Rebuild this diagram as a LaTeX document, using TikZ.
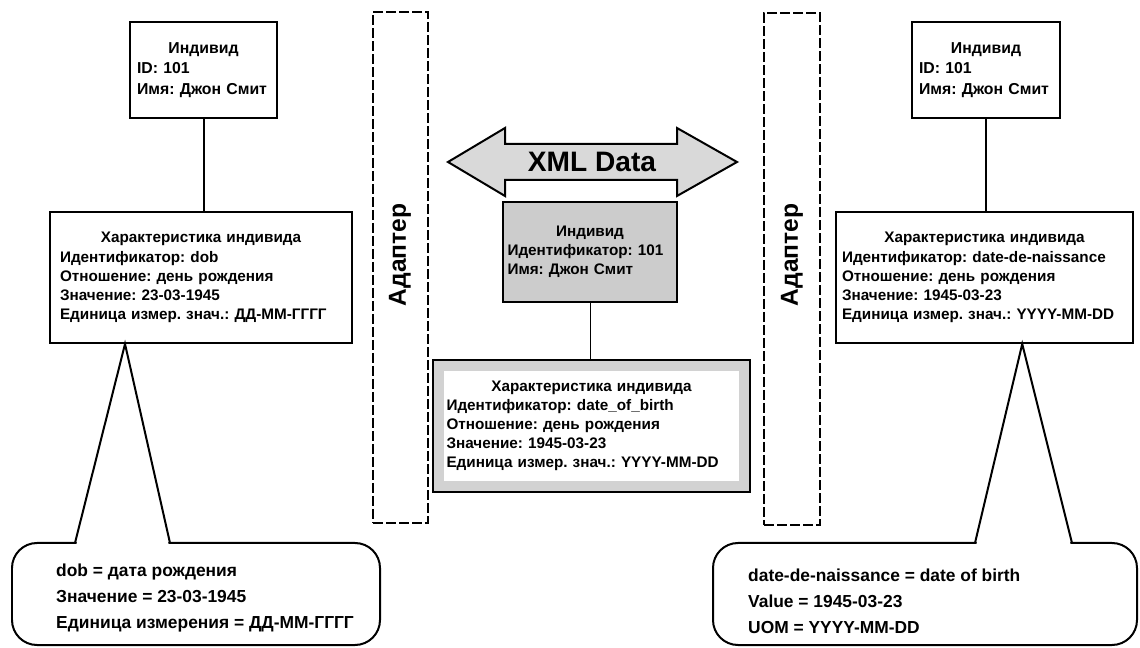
\documentclass[tikz,border=0pt]{standalone}
\usepackage{fontspec}
\setmainfont{Liberation Sans}
\frenchspacing
\usetikzlibrary{fit, calc}

\begin{document}
\begin{tikzpicture}[
      x=0.02cm, y=-0.02cm,
      card/.style    = {draw, line width=0.04cm, align=left, inner ysep=0pt,
                        font=\fontsize{8.7}{10.9}\selectfont\bfseries},
      head/.style    = {card, font=\fontsize{9}{11.5}\selectfont\bfseries},
      adapter/.style = {draw, line width=0.04cm, dash pattern=on 0.2cm off 0.06cm},
      vlabel/.style  = {rotate=90, font=\fontsize{14}{14}\selectfont\bfseries},
      note/.style    = {align=left, anchor=west,
                        font=\fontsize{9.9}{14.7}\selectfont\bfseries},
      link/.style    = {line width=0.04cm},
    ]

    \useasboundingbox (0,0) rectangle (1140,648);

    % adapters
    \node[adapter, minimum width=1.1cm, minimum height=10.22cm] (adL) at (400.5,267.5) {};
    \node[adapter, minimum width=1.12cm, minimum height=10.24cm] (adR) at (792,269) {};
    \node[vlabel] (adLtext) at (400,255) {Адаптер};
    \node[vlabel] (adRtext) at (792,255) {Адаптер};

    % left side
    \node[head, text width=2.66cm, inner xsep=0.14cm, minimum height=1.92cm]
      (indL) at (203.5,70) {\hfil Индивид\\ID: 101\\Имя: Джон Смит};
    \node[card, text width=5.64cm, inner xsep=0.2cm, minimum height=2.62cm]
      (charL) at (201,277.5) {\hfil Характеристика индивида\\Идентификатор: dob\\
        Отношение: день рождения\\Значение: 23-03-1945\\
        Единица измер. знач.: \mbox{ДД-ММ-ГГГГ}};
    \draw[link] (indL.south) -- (indL.south |- charL.north);

    % right side
    \node[head, text width=2.68cm, inner xsep=0.14cm, minimum height=1.92cm]
      (indR) at (986,70) {\hfil Индивид\\ID: 101\\Имя: Джон Смит};
    \node[card, text width=5.7cm, inner xsep=0.125cm, minimum height=2.62cm]
      (charR) at (984.5,277.5) {\hfil Характеристика индивида\\
        Идентификатор: date-de-naissance\\Отношение: день рождения\\
        Значение: 1945-03-23\\Единица измер. знач.: \mbox{YYYY-MM-DD}};
    \draw[link] (indR.south) -- (indR.south |- charR.north);

    % middle
    \draw[link, fill=gray!30] (448,162) -- (505,128) -- (505,144) -- (677,144)
      -- (677,128) -- (737,162) -- (677,196) -- (677,180) -- (505,180)
      -- (505,196) -- cycle;
    \node[font=\fontsize{16}{16}\selectfont\bfseries] (xml) at (592,162) {XML Data};

    \node[card, fill=gray!40, text width=3.3cm, inner xsep=0.09cm, minimum height=2cm]
      (indC) at (590,252) {\hfil Индивид\\Идентификатор: 101\\Имя: Джон Смит};
    \node[card, draw=gray!35, fill=white, line width=0.22cm, text width=5.8cm,
          inner xsep=0.16cm, minimum height=2.42cm]
      (charC) at (591.5,426) {\hfil Характеристика индивида\\
        Идентификатор: date\_of\_birth\\Отношение: день рождения\\
        Значение: 1945-03-23\\Единица измер. знач.: \mbox{YYYY-MM-DD}};
    \node[draw, line width=0.03cm, fit=(charC), inner sep=0pt] (charCframe) {};
    \draw[line width=0.02cm] (indC.south) -- (indC.south |- charCframe.north);

    % callouts
    \coordinate (tipL) at ($(charL.south west)!0.25!(charL.south east)$);
    \coordinate (baseLa) at (75,543);
    \coordinate (baseLb) at (170,543);
    \draw[link, rounded corners=0.5cm] (12,543) rectangle (380,645);
    \fill[white] (76,546) -- (tipL) -- (169,546) -- cycle;
    \draw[link] (baseLa) -- (tipL) -- (baseLb);
    \node[note] (noteL) at (50,598) {dob = дата рождения\\Значение = 23-03-1945\\
      Единица измерения = ДД-ММ-ГГГГ};

    \coordinate (tipR) at ($(charR.south west)!0.626!(charR.south east)$);
    \coordinate (baseRa) at (975,543);
    \coordinate (baseRb) at (1072,543);
    \draw[link, rounded corners=0.5cm] (713,543) rectangle (1137,645);
    \fill[white] (976,546) -- (tipR) -- (1071,546) -- cycle;
    \draw[link] (baseRa) -- (tipR) -- (baseRb);
    \node[note] (noteR) at (742,601) {date-de-naissance = date of birth\\
      Value = 1945-03-23\\UOM = YYYY-MM-DD};

\end{tikzpicture}
\end{document}
